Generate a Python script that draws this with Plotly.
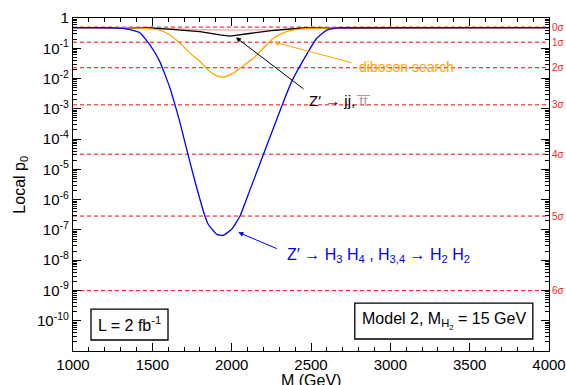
import math
import plotly.graph_objects as go

# ---------------- data ----------------
blue_m = [1000, 1200, 1300, 1360, 1422, 1485, 1548, 1611, 1643, 1674, 1717, 1769,
          1832, 1853, 1906, 1947, 2000, 2052, 2116, 2210, 2252, 2315, 2378, 2483,
          2536, 2599, 2683, 2800, 3000, 3500, 4000]
blue_p = [0.48, 0.48, 0.46, 0.41, 0.324, 0.129, 0.0355, 4.9e-3, 1.35e-3, 3.55e-4,
          4.47e-5, 3.98e-6, 2.82e-7, 1.51e-7, 7.1e-8, 6.6e-8, 1.05e-7, 2.82e-7,
          2.14e-6, 4.27e-5, 1.62e-4, 1.2e-3, 7.9e-3, 0.0776, 0.214, 0.398, 0.48,
          0.48, 0.48, 0.48, 0.48]

orange_m = [1000, 1300, 1485, 1548, 1611, 1674, 1737, 1800, 1863, 1906, 1947, 2010,
            2052, 2136, 2199, 2262, 2346, 2451, 2557, 2700, 3000, 4000]
orange_p = [0.48, 0.48, 0.437, 0.398, 0.275, 0.148, 0.0692, 0.0363, 0.0170, 0.0123,
            0.0112, 0.0151, 0.0219, 0.0468, 0.1, 0.214, 0.355, 0.437, 0.457, 0.48,
            0.48, 0.48]

black_m = [1000, 1485, 1600, 1800, 1926, 1990, 2100, 2250, 2450, 3000, 4000]
black_p = [0.48, 0.468, 0.427, 0.355, 0.275, 0.251, 0.302, 0.380, 0.468, 0.48, 0.48]

ttbar_m = [1000, 1550, 1750, 2000, 2250, 2450, 4000]
ttbar_p = [0.47, 0.46, 0.417, 0.398, 0.407, 0.457, 0.47]

sigma_labels = ["0σ", "1σ", "2σ", "3σ", "4σ", "5σ", "6σ"]
sigma_p = [0.5, 0.1587, 0.02275, 1.35e-3, 3.17e-5, 2.87e-7, 9.87e-10]

x_ticks = [1000, 1500, 2000, 2500, 3000, 3500, 4000]
y_tick_exp = [0, -1, -2, -3, -4, -5, -6, -7, -8, -9, -10]

# ---------------- figure ----------------
FONT = "Liberation Sans, Arial, Helvetica, sans-serif"
fig = go.Figure()

# sigma reference lines
for p in sigma_p:
    fig.add_trace(go.Scatter(x=[x_ticks[0], x_ticks[-1]], y=[p, p], mode="lines",
                             line=dict(color="#ff0000", width=1, dash="4px,3px"),
                             hoverinfo="skip", showlegend=False))

fig.add_trace(go.Scatter(x=ttbar_m, y=ttbar_p, mode="lines",
                         line=dict(color="#d9b3b3", width=1.3), showlegend=False))
fig.add_trace(go.Scatter(x=black_m, y=black_p, mode="lines",
                         line=dict(color="black", width=1.3), showlegend=False))
fig.add_trace(go.Scatter(x=orange_m, y=orange_p, mode="lines",
                         line=dict(color="#ffa500", width=1.3, shape="spline", smoothing=0.6),
                         showlegend=False))
fig.add_trace(go.Scatter(x=blue_m, y=blue_p, mode="lines",
                         line=dict(color="#0000ff", width=1.3, shape="spline", smoothing=0.4),
                         showlegend=False))

# minor ticks
x_minor = [v for v in range(1000, 4001, 100) if v % 500 != 0]
y_minor = []
for e in range(-11, 0):
    for k in range(2, 10):
        y_minor.append(k * 10.0 ** e)

y_text = ["1"] + ["10<sup>%d</sup>" % e for e in y_tick_exp[1:]]

fig.update_xaxes(range=[1000, 4000], tickvals=x_ticks, ticktext=[str(v) for v in x_ticks],
                 ticks="inside", ticklen=8, tickwidth=1, tickcolor="black",
                 showline=True, linecolor="black", linewidth=1.3, mirror="allticks",
                 showgrid=False, zeroline=False, automargin=False,
                 tickfont=dict(family=FONT, size=15, color="black"),
                 minor=dict(tickvals=x_minor, ticks="inside", ticklen=4, tickwidth=1,
                            tickcolor="black", showgrid=False))
fig.update_yaxes(type="log", range=[-11, 0],
                 tickvals=[10.0 ** e for e in y_tick_exp], ticktext=y_text,
                 ticks="inside", ticklen=8, tickwidth=1, tickcolor="black",
                 showline=True, linecolor="black", linewidth=1.3, mirror="allticks",
                 showgrid=False, zeroline=False, automargin=False,
                 tickfont=dict(family=FONT, size=15, color="black"),
                 minor=dict(tickvals=y_minor, ticks="inside", ticklen=4, tickwidth=1,
                            tickcolor="black", showgrid=False))

ann = []
# sigma labels on the right
for lab, p in zip(sigma_labels, sigma_p):
    ann.append(dict(x=1.003, xref="paper", y=math.log10(p), yref="y", text=lab,
                    showarrow=False, xanchor="left", yanchor="middle",
                    font=dict(family=FONT, size=10, color="#ff2020")))

# axis titles
ann.append(dict(x=-0.111, y=0.50, xref="paper", yref="paper", text="Local p<sub>0</sub>",
                textangle=-90, showarrow=False, xanchor="center", yanchor="middle",
                font=dict(family=FONT, size=16, color="black")))
ann.append(dict(x=0.5, y=-0.09, xref="paper", yref="paper", text="M (GeV)",
                showarrow=False, xanchor="center", yanchor="middle",
                font=dict(family=FONT, size=16, color="black")))

# arrows
ann.append(dict(x=2267, y=math.log10(0.16), ax=2765, ay=-1.49, xref="x", yref="y",
                axref="x", ayref="y", text="", showarrow=True, arrowhead=2,
                arrowsize=1, arrowwidth=1, arrowcolor="#ffa500"))
ann.append(dict(x=2027, y=-0.64, ax=2462, ay=-2.38, xref="x", yref="y",
                axref="x", ayref="y", text="", showarrow=True, arrowhead=2,
                arrowsize=1, arrowwidth=1, arrowcolor="black"))
ann.append(dict(x=2042, y=-7.08, ax=2294, ay=-7.64, xref="x", yref="y",
                axref="x", ayref="y", text="", showarrow=True, arrowhead=2,
                arrowsize=1, arrowwidth=1, arrowcolor="#0000ff"))

# labels
ann.append(dict(x=2790, y=-1.61, xref="x", yref="y", text="diboson search",
                showarrow=False, xanchor="left", yanchor="middle",
                font=dict(family=FONT, size=14, color="#ffa500")))
ann.append(dict(x=2475, y=-2.71, xref="x", yref="y",
                text="Z′ → jj, <span style='color:#c09696'>t\u0305t\u0305</span>",
                showarrow=False, xanchor="left", yanchor="middle",
                font=dict(family=FONT, size=15, color="black")))
ann.append(dict(x=2336, y=-7.83, xref="x", yref="y",
                text="Z′ → H<sub>3</sub> H<sub>4</sub> , H<sub>3,4</sub> → H<sub>2</sub> H<sub>2</sub>",
                showarrow=False, xanchor="left", yanchor="middle",
                font=dict(family=FONT, size=16, color="#0000ff")))

# boxed labels
ann.append(dict(x=0.1187, y=0.080, xref="paper", yref="paper", text="L = 2 fb<sup>-1</sup>",
                showarrow=False, xanchor="center", yanchor="middle",
                font=dict(family=FONT, size=16, color="black")))
ann.append(dict(x=0.779, y=0.090, xref="paper", yref="paper",
                text="Model 2, M<sub>H<sub>2</sub></sub> = 15 GeV",
                showarrow=False, xanchor="center", yanchor="middle",
                font=dict(family=FONT, size=16, color="black")))

shapes = [
    dict(type="rect", xref="paper", yref="paper", x0=0.0378, x1=0.1996, y0=0.033, y1=0.126,
         line=dict(color="black", width=1.3), fillcolor="white", layer="below"),
    dict(type="rect", xref="paper", yref="paper", x0=0.592, x1=0.966, y0=0.036, y1=0.144,
         line=dict(color="black", width=1.3), fillcolor="white", layer="below"),
]

fig.update_layout(width=566, height=385, margin=dict(l=73, r=17, t=18, b=34),
                  paper_bgcolor="white", plot_bgcolor="white",
                  annotations=ann, shapes=shapes, showlegend=False,
                  font=dict(family=FONT, color="black"))

fig.write_html("out.html")
